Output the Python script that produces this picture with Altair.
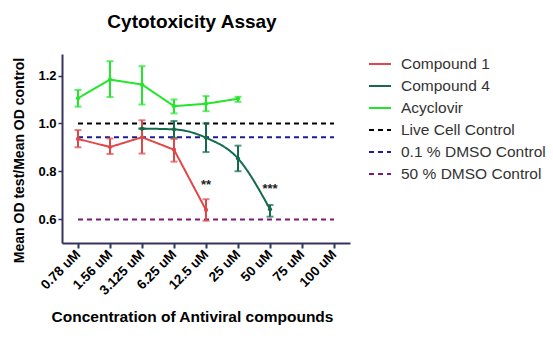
import altair as alt
import pandas as pd

conc = ["0.78 uM", "1.56 uM", "3.125 uM", "6.25 uM", "12.5 uM", "25 uM", "50 uM", "75 uM", "100 uM"]

c1_conc = ["0.78 uM", "1.56 uM", "3.125 uM", "6.25 uM", "12.5 uM"]
c1_mean = [0.935, 0.901, 0.942, 0.89, 0.638]
c1_lo = [0.90, 0.872, 0.874, 0.84, 0.593]
c1_hi = [0.972, 0.937, 1.013, 0.935, 0.683]

c4_conc = ["3.125 uM", "6.25 uM", "12.5 uM", "25 uM", "50 uM"]
c4_mean = [0.978, 0.975, 0.94, 0.853, 0.641]
c4_lo = [0.978, 0.94, 0.88, 0.80, 0.61]
c4_hi = [0.978, 1.01, 1.0, 0.907, 0.659]

acy_conc = ["0.78 uM", "1.56 uM", "3.125 uM", "6.25 uM", "12.5 uM", "25 uM"]
acy_mean = [1.105, 1.183, 1.1625, 1.072, 1.082, 1.103]
acy_lo = [1.07, 1.11, 1.079, 1.042, 1.051, 1.09]
acy_hi = [1.14, 1.26, 1.239, 1.10, 1.114, 1.111]

ctrl_names = ["Live Cell Control", "0.1 % DMSO Control", "50 % DMSO Control"]
ctrl_vals = [1.0, 0.942, 0.598]

sig_conc = ["12.5 uM", "50 uM"]
sig_text = ["**", "***"]
sig_y = [0.742, 0.725]

series = ["Compound 1", "Compound 4", "Acyclovir"] + ctrl_names
colors = ["#e04848", "#146b4c", "#22e62a", "#000000", "#1c1c96", "#7a1a7a"]
dashes = [[1, 0], [1, 0], [1, 0], [5, 4], [5, 4], [5, 4]]

rows = []
for name, cs, m, lo, hi in [
    ("Compound 1", c1_conc, c1_mean, c1_lo, c1_hi),
    ("Compound 4", c4_conc, c4_mean, c4_lo, c4_hi),
    ("Acyclovir", acy_conc, acy_mean, acy_lo, acy_hi),
]:
    for c, a, l, h in zip(cs, m, lo, hi):
        rows.append({"series": name, "conc": c, "mean": a, "lo": l, "hi": h})
df = pd.DataFrame(rows)

ctrl_df = pd.DataFrame({"series": ctrl_names, "mean": ctrl_vals,
                        "conc": [conc[0]] * 3, "x2": [conc[-1]] * 3})
sig_df = pd.DataFrame({"conc": sig_conc, "text": sig_text, "mean": sig_y})

xscale = alt.Scale(type="point", domain=conc, padding=0.5)
yscale = alt.Scale(domain=[0.5, 1.29], nice=False, zero=False)
color = alt.Color("series:N", scale=alt.Scale(domain=series, range=colors),
                  legend=alt.Legend(title=None, orient="none", legendX=306, legendY=-2,
                                    symbolType="stroke", symbolSize=484, symbolStrokeWidth=2,
                                    labelFont="Liberation Sans", labelFontSize=15.5,
                                    labelColor="#333333", rowPadding=1, padding=0,
                                    labelOffset=9))
color_nl = alt.Color("series:N", scale=alt.Scale(domain=series, range=colors), legend=None)
dash = alt.StrokeDash("series:N", scale=alt.Scale(domain=series, range=dashes))

xenc = alt.X("conc:N", scale=xscale, sort=conc,
             axis=alt.Axis(title="Concentration of Antiviral compounds", labelAngle=-45,
                           labelAlign="right", labelBaseline="middle", labelPadding=4,
                           labelFont="Liberation Sans", labelFontWeight="bold", labelFontSize=13.5,
                           labelColor="#000000", titleFont="Liberation Sans", titleFontWeight="bold",
                           titleFontSize=15.5, titleColor="#000000", titleY=66, titleX=130,
                           titleAlign="center",
                           domainColor="#33335e", domainWidth=2, tickColor="#33335e",
                           tickWidth=2, tickSize=5, grid=False))
yenc = alt.Y("mean:Q", scale=yscale,
             axis=alt.Axis(title="Mean OD test/Mean OD control", values=[0.6, 0.8, 1.0, 1.2],
                           format=".1f", labelFont="Liberation Sans", labelFontWeight="bold",
                           labelFontSize=13, labelColor="#000000", labelPadding=2,
                           titleFont="Liberation Sans",
                           titleFontWeight="bold", titleFontSize=14, titleColor="#000000",
                           titleX=-36, titleY=106, titleAlign="center",
                           domainColor="#33335e", domainWidth=2,
                           tickColor="#33335e", tickWidth=1.5, tickSize=4, grid=False))

base = alt.Chart(df)

ctrl = alt.Chart(ctrl_df).mark_rule(strokeWidth=2).encode(
    x=xenc, x2="x2:N", y=yenc, color=color, strokeDash=dash)

lin = base.transform_filter(alt.datum.series != "Compound 4").mark_line(strokeWidth=2).encode(
    x=xenc, y=yenc, color=color, strokeDash=dash)
smooth = base.transform_filter(alt.datum.series == "Compound 4").mark_line(
    strokeWidth=2, interpolate="monotone").encode(
    x=xenc, y=yenc, color=color, strokeDash=dash)
pts = base.mark_point(filled=True, size=18, opacity=1).encode(
    x=xenc, y=yenc, color=color_nl)
err = base.mark_rule(strokeWidth=2).encode(
    x=xenc, y=alt.Y("lo:Q", scale=yscale), y2="hi:Q", color=color_nl)
cap_lo = base.mark_tick(thickness=2, size=7, orient="horizontal").encode(
    x=xenc, y=alt.Y("lo:Q", scale=yscale), color=color_nl)
cap_hi = base.mark_tick(thickness=2, size=7, orient="horizontal").encode(
    x=xenc, y=alt.Y("hi:Q", scale=yscale), color=color_nl)

sig = alt.Chart(sig_df).mark_text(font="Liberation Sans", fontSize=13, fontWeight="bold",
                                  color="#222222", baseline="middle").encode(
    x=xenc, y=yenc, text="text:N")

chart = alt.layer(ctrl, lin, smooth, err, cap_lo, cap_hi, pts, sig).properties(
    width=288, height=189,
    autosize=alt.AutoSizeParams(type="none"),
    padding={"left": 62, "top": 54, "right": 203, "bottom": 100},
    title=alt.TitleParams("Cytotoxicity Assay", font="Liberation Sans", fontSize=19,
                          fontWeight="bold", color="#000000", anchor="middle", offset=20, dx=-14),
).configure_view(stroke=None)

chart.save("out.html", embed_options={"renderer": "svg", "actions": False})
